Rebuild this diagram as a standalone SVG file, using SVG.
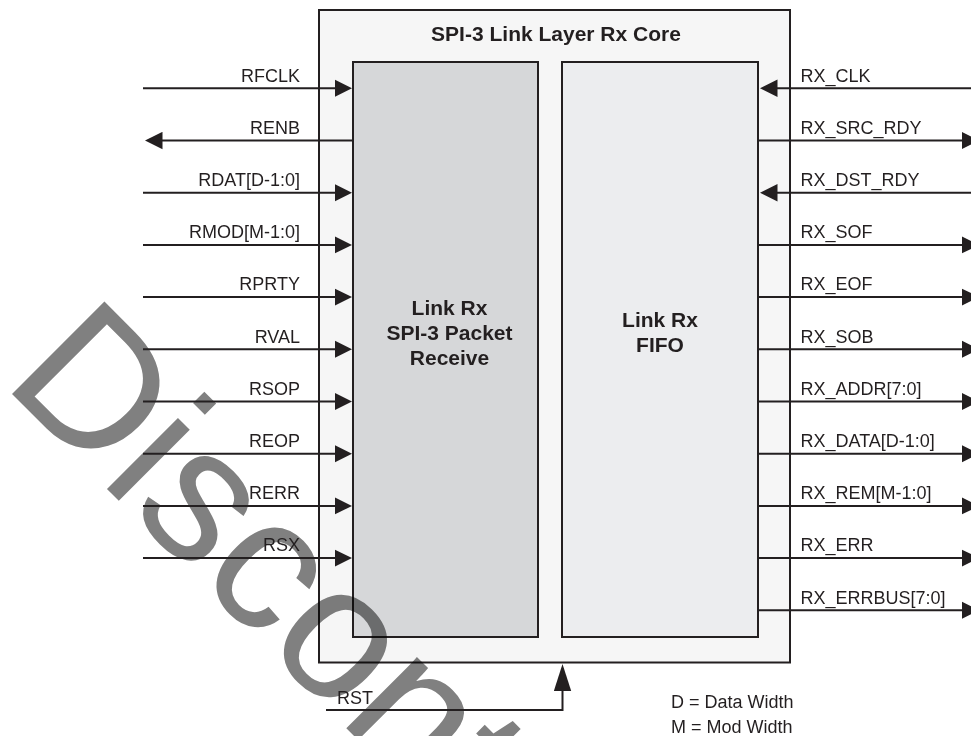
<svg xmlns="http://www.w3.org/2000/svg" width="971" height="736" viewBox="0 0 971 736">
<style>
.box{stroke:#231f20;stroke-width:2}
.wire{fill:none;stroke:#231f20;stroke-width:2}
.lbl{font-family:"Liberation Sans",Arial,sans-serif;font-size:18px;fill:#231f20}
.ttl{font-family:"Liberation Sans",Arial,sans-serif;font-size:21px;font-weight:bold;fill:#231f20;text-anchor:middle}
.l{text-anchor:end}
.wm{font-family:"Liberation Sans",Arial,sans-serif;font-size:190px;fill:#808080;mix-blend-mode:multiply}
</style>
<defs>
<marker id="ah" markerUnits="userSpaceOnUse" markerWidth="18" markerHeight="18" refX="0.5" refY="8.7" orient="auto" viewBox="0 0 18 17.4">
<path d="M0,0 L17.5,8.7 L0,17.4 z" fill="#231f20"/>
</marker>
<marker id="aht" markerUnits="userSpaceOnUse" markerWidth="28" markerHeight="18" refX="0.5" refY="8.7" orient="auto" viewBox="0 0 28 17.4">
<path d="M0,0 L27,8.7 L0,17.4 z" fill="#231f20"/>
</marker>
</defs>
<rect width="971" height="736" fill="#ffffff"/>
<g id="core">
<rect class="box" x="319" y="10" width="471" height="652.5" fill="#f6f6f6"/>
<text class="ttl" x="556" y="40.5">SPI-3 Link Layer Rx Core</text>
</g>
<g id="rx-packet">
<rect class="box" x="353" y="62" width="185" height="575" fill="#d6d7d9"/>
<text class="ttl" x="449.5" y="315">Link Rx</text>
<text class="ttl" x="449.5" y="340">SPI-3 Packet</text>
<text class="ttl" x="449.5" y="364.5">Receive</text>
</g>
<g id="rx-fifo">
<rect class="box" x="562" y="62" width="196" height="575" fill="#ecedef"/>
<text class="ttl" x="660" y="326.5">Link Rx</text>
<text class="ttl" x="660" y="351.5">FIFO</text>
</g>
<g id="watermark">
<text class="wm" transform="translate(1,383) rotate(45)">Discontinued</text>
</g>
<g id="connectors">
<path class="wire" marker-end="url(#ah)" d="M143,88.3 H335"/>
<path class="wire" marker-end="url(#ah)" d="M353,140.5 H162"/>
<path class="wire" marker-end="url(#ah)" d="M143,192.7 H335"/>
<path class="wire" marker-end="url(#ah)" d="M143,244.9 H335"/>
<path class="wire" marker-end="url(#ah)" d="M143,297.1 H335"/>
<path class="wire" marker-end="url(#ah)" d="M143,349.3 H335"/>
<path class="wire" marker-end="url(#ah)" d="M143,401.5 H335"/>
<path class="wire" marker-end="url(#ah)" d="M143,453.7 H335"/>
<path class="wire" marker-end="url(#ah)" d="M143,505.9 H335"/>
<path class="wire" marker-end="url(#ah)" d="M143,558.1 H335"/>
<path class="wire" marker-end="url(#ah)" d="M972,88.3 H777"/>
<path class="wire" marker-end="url(#ah)" d="M758,140.5 H962"/>
<path class="wire" marker-end="url(#ah)" d="M972,192.7 H777"/>
<path class="wire" marker-end="url(#ah)" d="M758,244.9 H962"/>
<path class="wire" marker-end="url(#ah)" d="M758,297.1 H962"/>
<path class="wire" marker-end="url(#ah)" d="M758,349.3 H962"/>
<path class="wire" marker-end="url(#ah)" d="M758,401.5 H962"/>
<path class="wire" marker-end="url(#ah)" d="M758,453.7 H962"/>
<path class="wire" marker-end="url(#ah)" d="M758,505.9 H962"/>
<path class="wire" marker-end="url(#ah)" d="M758,558.1 H962"/>
<path class="wire" marker-end="url(#ah)" d="M758,610.3 H962"/>
<path class="wire" marker-end="url(#aht)" d="M326,710 H562.5 V690.5"/>
</g>
<g id="signal-labels">
<text class="lbl l" x="300" y="81.5">RFCLK</text>
<text class="lbl l" x="300" y="133.7">RENB</text>
<text class="lbl l" x="300" y="185.9">RDAT[D-1:0]</text>
<text class="lbl l" x="300" y="238.1">RMOD[M-1:0]</text>
<text class="lbl l" x="300" y="290.3">RPRTY</text>
<text class="lbl l" x="300" y="342.5">RVAL</text>
<text class="lbl l" x="300" y="394.7">RSOP</text>
<text class="lbl l" x="300" y="446.9">REOP</text>
<text class="lbl l" x="300" y="499.1">RERR</text>
<text class="lbl l" x="300" y="551.3">RSX</text>
<text class="lbl" x="800.5" y="81.5">RX_CLK</text>
<text class="lbl" x="800.5" y="133.7">RX_SRC_RDY</text>
<text class="lbl" x="800.5" y="185.9">RX_DST_RDY</text>
<text class="lbl" x="800.5" y="238.1">RX_SOF</text>
<text class="lbl" x="800.5" y="290.3">RX_EOF</text>
<text class="lbl" x="800.5" y="342.5">RX_SOB</text>
<text class="lbl" x="800.5" y="394.7">RX_ADDR[7:0]</text>
<text class="lbl" x="800.5" y="446.9">RX_DATA[D-1:0]</text>
<text class="lbl" x="800.5" y="499.1">RX_REM[M-1:0]</text>
<text class="lbl" x="800.5" y="551.3">RX_ERR</text>
<text class="lbl" x="800.5" y="603.5">RX_ERRBUS[7:0]</text>
<text class="lbl" x="337" y="703.5">RST</text>
</g>
<g id="legend">
<text class="lbl" x="671" y="708">D = Data Width</text>
<text class="lbl" x="671" y="732.5">M = Mod Width</text>
</g>
</svg>
